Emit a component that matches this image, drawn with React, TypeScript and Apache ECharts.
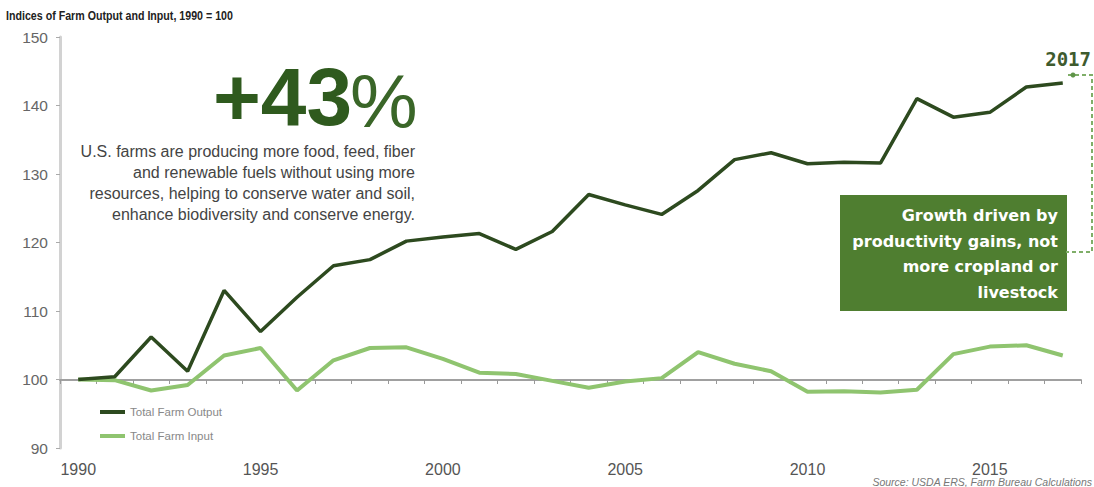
import React, { useEffect, useRef } from "react";
import * as echarts from "echarts";

const years: string[] = [
  "1990", "1991", "1992", "1993", "1994", "1995", "1996", "1997", "1998", "1999",
  "2000", "2001", "2002", "2003", "2004", "2005", "2006", "2007", "2008", "2009",
  "2010", "2011", "2012", "2013", "2014", "2015", "2016", "2017",
];

const farmOutput: number[] = [
  100, 100.4, 106.2, 101.2, 113, 107, 112, 116.6, 117.5, 120.2,
  120.8, 121.3, 119, 121.6, 127, 125.5, 124.1, 127.6, 132.1, 133.1,
  131.5, 131.7, 131.6, 141, 138.3, 139, 142.7, 143.3,
];

const farmInput: number[] = [
  100, 99.9, 98.4, 99.2, 103.5, 104.6, 98.4, 102.8, 104.6, 104.7,
  103, 101, 100.8, 99.8, 98.8, 99.7, 100.2, 104, 102.3, 101.2,
  98.2, 98.3, 98.1, 98.5, 103.7, 104.8, 105, 103.5,
];

const yTicks = { min: 90, max: 150, interval: 10 };

const subtitle = "Indices of Farm Output and Input, 1990 = 100";
const bigStat = "+43";
const paragraph = [
  "U.S. farms are producing more food, feed, fiber",
  "and renewable fuels without using more",
  "resources, helping to conserve water and soil,",
  "enhance biodiversity and conserve energy.",
];
const boxLines = [
  "Growth driven by",
  "productivity gains, not",
  "more cropland or",
  "livestock",
];
const endYearLabel = "2017";
const sourceText = "Source: USDA ERS, Farm Bureau Calculations";

const FONT = "'Liberation Sans', Arial, sans-serif";

export default function App() {
  const ref = useRef<HTMLDivElement>(null);

  useEffect(() => {
    document.body.style.margin = "0";
    if (!ref.current) return;
    const chart = echarts.init(ref.current, undefined, { renderer: "svg" });
    chart.setOption({
      animation: false,
      backgroundColor: "#ffffff",
      textStyle: { fontFamily: FONT },
      grid: [
        { left: 60, right: 13, top: 37, bottom: 39 },
        { left: 60, right: 13, top: 37, bottom: 107 },
      ],
      legend: {
        orient: "vertical",
        left: 95,
        top: 401,
        itemWidth: 25,
        itemHeight: 4,
        itemGap: 12,
        icon: "rect",
        textStyle: { fontSize: 11.5, color: "#888", fontFamily: FONT },
        data: ["Total Farm Output", "Total Farm Input"],
      },
      xAxis: [
        {
          type: "category",
          gridIndex: 0,
          data: years,
          boundaryGap: true,
          axisLine: { show: false },
          axisTick: { show: false },
          axisLabel: { interval: 4, fontSize: 16, color: "#555", margin: 13 },
          splitLine: { show: false },
        },
        {
          type: "category",
          gridIndex: 1,
          data: years,
          boundaryGap: true,
          position: "bottom",
          axisLine: { show: true, lineStyle: { color: "#a0a0a0", width: 2 } },
          axisTick: { show: true, interval: 0, length: 4, lineStyle: { color: "#999" } },
          axisLabel: { show: false },
          splitLine: { show: false },
        },
      ],
      yAxis: [
        {
          type: "value",
          gridIndex: 0,
          min: yTicks.min,
          max: yTicks.max,
          interval: yTicks.interval,
          axisLine: { show: true, lineStyle: { color: "#d2d2d2", width: 3 } },
          axisTick: { show: true, length: 4, lineStyle: { color: "#aaa" } },
          axisLabel: { fontSize: 15.5, color: "#666", margin: 12 },
          splitLine: { show: false },
        },
        { type: "value", gridIndex: 1, min: 0, max: 1, show: false },
      ],
      series: [
        {
          name: "Total Farm Input",
          type: "line",
          xAxisIndex: 0,
          yAxisIndex: 0,
          data: farmInput,
          symbol: "none",
          itemStyle: { color: "#8fc46f" },
          lineStyle: { color: "#8fc46f", width: 4 },
          z: 3,
        },
        {
          name: "Total Farm Output",
          type: "line",
          xAxisIndex: 0,
          yAxisIndex: 0,
          data: farmOutput,
          symbol: "none",
          itemStyle: { color: "#2d4a1f" },
          lineStyle: { color: "#2d4a1f", width: 3.5 },
          z: 4,
        },
      ],
      graphic: [
        {
          type: "text",
          left: 6,
          top: 9,
          scaleX: 0.82,
          style: {
            text: subtitle,
            font: `bold 13px ${FONT}`,
            fill: "#222",
          },
        },
        {
          type: "text",
          x: 352,
          y: 137,
          style: {
            text: bigStat,
            font: `bold 82px ${FONT}`,
            fill: "#2f5a1e",
            textAlign: "right",
            textVerticalAlign: "bottom",
          },
        },
        {
          type: "text",
          x: 350,
          y: 138,
          style: {
            text: "%",
            font: `300 76px ${FONT}`,
            fill: "#3a6628",
            textAlign: "left",
            textVerticalAlign: "bottom",
          },
        },
        {
          type: "text",
          x: 415,
          y: 141,
          style: {
            text: paragraph.join("\n"),
            font: `16px ${FONT}`,
            lineHeight: 21,
            fill: "#444",
            textAlign: "right",
          },
        },
        {
          type: "rect",
          shape: { x: 840, y: 195, width: 227, height: 116 },
          style: { fill: "#4f7e30" },
        },
        {
          type: "text",
          x: 1058,
          y: 203,
          style: {
            text: boxLines.join("\n"),
            font: `bold 16px 'DejaVu Sans', sans-serif`,
            lineHeight: 25.5,
            fill: "#ffffff",
            textAlign: "right",
          },
        },
        {
          type: "text",
          x: 1091,
          y: 59,
          style: {
            text: endYearLabel,
            font: `bold 19px 'DejaVu Sans Mono', monospace`,
            fill: "#3e5b2e",
            textAlign: "right",
            textVerticalAlign: "middle",
          },
        },
        {
          type: "polyline",
          shape: { points: [[1068, 75], [1092, 75], [1092, 252], [1066, 252]] },
          style: { stroke: "#7fae68", lineWidth: 2, lineDash: [4, 3], fill: null },
        },
        {
          type: "circle",
          shape: { cx: 1073, cy: 75, r: 2.5 },
          style: { fill: "#5f9448" },
        },
        {
          type: "text",
          x: 1092,
          y: 482,
          style: {
            text: sourceText,
            font: `italic 10.5px ${FONT}`,
            fill: "#777",
            textAlign: "right",
            textVerticalAlign: "middle",
          },
        },
      ],
    });
    return () => chart.dispose();
  }, []);

  return <div ref={ref} style={{ width: 1094, height: 487 }} />;
}
